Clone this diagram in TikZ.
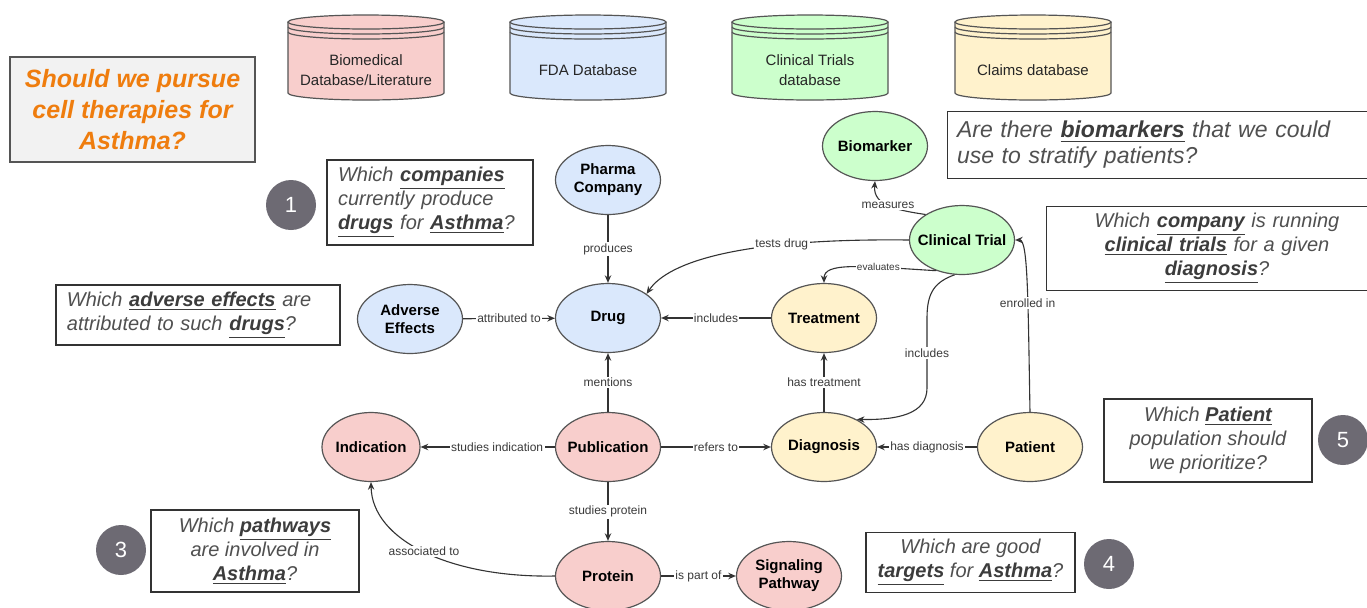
\documentclass[tikz,border=0pt]{standalone}
\usepackage{fontspec}
\setmainfont{Liberation Sans}
\usetikzlibrary{arrows.meta,shapes.geometric}
\definecolor{cblue}{HTML}{DAE8FC}
\definecolor{cpink}{HTML}{F8CECC}
\definecolor{cgreen}{HTML}{CCFFCC}
\definecolor{cyellow}{HTML}{FFF2CC}
\definecolor{cstroke}{HTML}{555555}
\definecolor{cedge}{HTML}{333333}
\definecolor{clbl}{HTML}{3A3A3A}
\definecolor{cqt}{HTML}{505050}
\definecolor{cqb}{HTML}{3C3C3C}
\definecolor{corange}{HTML}{EF7D0E}
\definecolor{ctitlebg}{HTML}{F2F2F2}
\definecolor{cnum}{HTML}{6D6A73}
\newcommand\zw[1]{\makebox[0pt]{#1}}
\newcommand\qbw[1]{{\color{cqb}\bfseries\underline{#1}}}
\newcommand\dbcyl[4]{%
\begin{scope}[shift={(#2,0)}]
 \filldraw[fill=#3, draw=cstroke, line width=0.6pt] (-78,22) -- (-78,93) arc[start angle=180,end angle=360,x radius=39pt,y radius=3.5pt] -- (78,22);
 \filldraw[fill=#3, draw=cstroke, line width=0.6pt] (0,22) ellipse[x radius=39pt, y radius=3.5pt];
 \draw[cstroke, line width=0.6pt] (-78,27) arc[start angle=180,end angle=360,x radius=39pt,y radius=3.5pt];
 \draw[cstroke, line width=0.6pt] (-78,32) arc[start angle=180,end angle=360,x radius=39pt,y radius=3.5pt];
 \node[dbtext] (#1) at (0,70) {#4};
\end{scope}}
\tikzset{
 ent/.style={ellipse, draw=cstroke, line width=0.6pt, minimum width=52.5pt, minimum height=34.5pt, inner sep=0pt, align=center, font=\fontsize{7.5}{9}\selectfont\bfseries},
 eblue/.style={ent, fill=cblue},
 epink/.style={ent, fill=cpink},
 egreen/.style={ent, fill=cgreen},
 eyellow/.style={ent, fill=cyellow},
 dbtext/.style={align=center, font=\fontsize{7.5}{10}\selectfont, text=black!85},
 edge/.style={draw=cedge, line width=0.55pt, -{Stealth[length=3.8pt,width=3.2pt]}},
 lbl/.style={fill=white, inner sep=0.7pt, font=\fontsize{6}{7}\selectfont, text=clbl},
 qtext/.style={font=\fontsize{10}{12}\selectfont\itshape, text=cqt},
 qbox/.style={qtext, draw=cedge, line width=0.6pt, fill=white},
 qframe/.style={draw=cedge, line width=0.6pt},
 numc/.style={circle, fill=cnum, minimum size=25pt, inner sep=0pt, text=white, font=\fontsize{11}{12}\selectfont},
}
\begin{document}
\begin{tikzpicture}[x=0.5pt,y=-0.5pt]
\useasboundingbox[fill=white] (0,0) rectangle (1367,607);
\clip (0,0) rectangle (1367,607);

% databases
\dbcyl{dbbio}{366}{cpink}{Biomedical\\Database/Literature}
\dbcyl{dbfda}{588}{cblue}{FDA Database}
\dbcyl{dbct}{810}{cgreen}{Clinical Trials\\database}
\dbcyl{dbcl}{1033}{cyellow}{Claims database}

% title
\node[draw=cstroke, line width=0.8pt, fill=ctitlebg, minimum width=122.5pt, minimum height=52.5pt, align=center,
      font=\fontsize{12.5}{15.5}\selectfont\bfseries\itshape, text=corange] (title) at (132.5,109.5)
      {Should we pursue\\cell therapies for\\Asthma?};

% entities
\node[eblue] (pharma) at (608,180) {\zw{Pharma}\\\zw{Company}};
\node[eblue] (drug) at (608,318) {\zw{Drug}};
\node[eblue] (adv) at (410,319) {\zw{Adverse}\\\zw{Effects}};
\node[egreen] (bio) at (875,146) {\zw{Biomarker}};
\node[egreen] (ct) at (962,240) {\zw{Clinical Trial}};
\node[eyellow] (treat) at (824,318) {\zw{Treatment}};
\node[eyellow] (dia) at (824,447) {\zw{Diagnosis}};
\node[eyellow] (pat) at (1030,447) {\zw{Patient}};
\node[epink] (pub) at (608,447) {\zw{Publication}};
\node[epink, minimum width=49pt] (ind) at (371,447) {\zw{Indication}};
\node[epink] (prot) at (608,576) {\zw{Protein}};
\node[epink] (sig) at (789,576) {\zw{Signaling}\\\zw{Pathway}};

% straight connectors
\draw[edge] (pharma) -- node[lbl]{produces} (drug);
\draw[edge] (adv) -- node[lbl]{attributed to} (drug);
\draw[edge] (treat) -- node[lbl]{includes} (drug);
\draw[edge] (pub) -- node[lbl]{mentions} (drug);
\draw[edge] (pub) -- node[lbl, pos=0.43]{studies indication} (ind);
\draw[edge] (pub) -- node[lbl]{refers to} (dia);
\draw[edge] (pub) -- node[lbl]{studies protein} (prot);
\draw[edge] (prot) -- node[lbl]{is part of} (sig);
\draw[edge] (pat) -- node[lbl]{has diagnosis} (dia);
\draw[edge] (dia) -- node[lbl]{has treatment} (treat);

% curved connectors
\draw[edge] (ct.west) .. controls (740,238) and (668,262) .. node[lbl, pos=0.3]{tests drug} (drug.32);
\draw[edge] (ct.230) .. controls (860,266) and (824,262) .. node[lbl, pos=0.3, font=\fontsize{5}{6}\selectfont]{evaluates} (treat.north);
\draw[edge] (ct.145) .. controls (895,210) and (873,205) .. node[lbl, pos=0.5]{measures} (bio.south);
\draw[edge] (ct.258) .. controls (935,282) and (927,292) .. (927,318) -- node[lbl, pos=0.5]{includes} (927,388)
      .. controls (927,414) and (898,420) .. (dia.40);
\draw[edge] (pat.north) .. controls (1028,300) and (1028,240) .. node[lbl, pos=0.4]{enrolled in} (ct.east);
\draw[edge] (prot.west) .. controls (450,578) and (372,540) .. node[lbl, pos=0.5]{associated to} (ind.south);

% question boxes
\node[qbox, minimum width=103pt, minimum height=42.5pt, text width=92pt, inner xsep=5.5pt, align=left] (q1) at (430,202.5)
  {Which \qbw{companies}\\currently produce\\\qbw{drugs} for \qbw{Asthma}?};
\node[qbox, minimum width=142pt, minimum height=30pt, text width=131pt, inner xsep=5.5pt, align=left] (q2) at (198,315)
  {Which \qbw{adverse effects} are\\attributed to such \qbw{drugs}?};
\node[qtext, minimum width=224pt, minimum height=33pt, text width=215pt, inner xsep=4.5pt, align=left,
      font=\fontsize{11.5}{13}\selectfont\itshape] (qbio) at (1172,145)
  {Are there \qbw{biomarkers} that we could\\use to stratify patients?};
\draw[qframe] (qbio.north east) -- (qbio.north west) -- (qbio.south west) -- (qbio.south east);
\node[qtext, minimum width=170pt, minimum height=41.5pt, text width=161pt, inner xsep=4.5pt, align=center] (qct) at (1217,248.5)
  {Which \qbw{company} is running\\\qbw{clinical trials} for a given\\\qbw{diagnosis}?};
\draw[qframe] (qct.north east) -- (qct.north west) -- (qct.south west) -- (qct.south east);
\node[qbox, minimum width=104pt, minimum height=41.5pt, align=center] (q5) at (1208,440.5)
  {Which \qbw{Patient}\\population should\\we prioritize?};
\node[qbox, minimum width=104.5pt, minimum height=29.5pt, align=center] (q4) at (970.5,562.5)
  {Which are good\\\qbw{targets} for \qbw{Asthma}?};
\node[qbox, minimum width=104pt, minimum height=41pt, align=center] (q3) at (255,551)
  {Which \qbw{pathways}\\are involved in\\\qbw{Asthma}?};

% number badges
\node[numc] (n1) at (291,205) {1};
\node[numc] (n5) at (1343,440) {5};
\node[numc] (n4) at (1109,564) {4};
\node[numc] (n3) at (121,550) {3};
\end{tikzpicture}
\end{document}
